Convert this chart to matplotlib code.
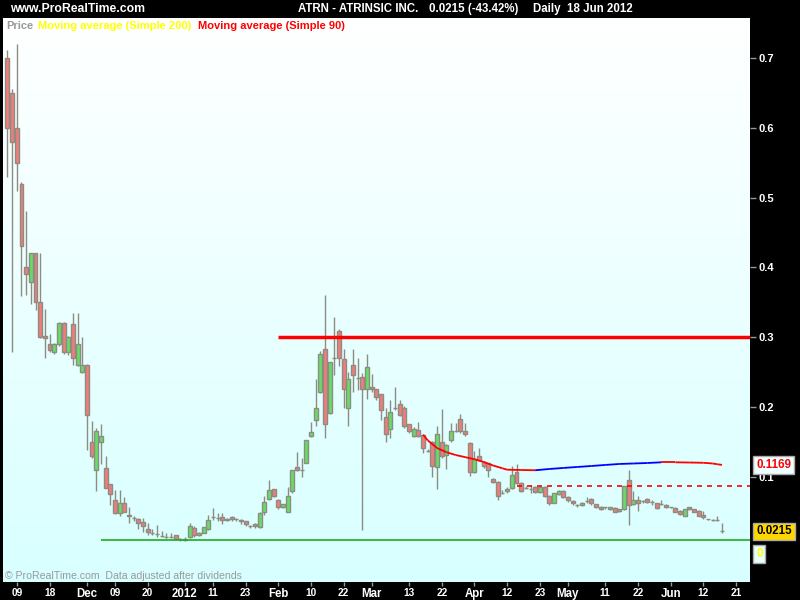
import numpy as np
import matplotlib
matplotlib.use('Agg')
import matplotlib.pyplot as plt
import matplotlib.transforms as mtransforms
from matplotlib.colors import LinearSegmentedColormap

plt.rcParams['font.family'] = ['Liberation Sans', 'DejaVu Sans']

# daily OHLC, 7 Nov 2011 .. 18 Jun 2012 (trading days)
opens = [0.700, 0.650, 0.600, 0.520, 0.400, 0.379, 0.420, 0.350, 0.301, 0.290,
         0.279, 0.290, 0.320, 0.279, 0.319, 0.260, 0.250, 0.260, 0.149, 0.109,
         0.149, 0.112, 0.089, 0.066, 0.048, 0.063, 0.045, 0.041, 0.040, 0.035,
         0.025, 0.020, 0.018, 0.015, 0.014, 0.014, 0.016, 0.010, 0.010, 0.013,
         0.026, 0.017, 0.020, 0.025, 0.042, 0.041, 0.042, 0.038, 0.042, 0.039,
         0.038, 0.037, 0.030, 0.032, 0.028, 0.049, 0.068, 0.082, 0.067, 0.056,
         0.050, 0.079, 0.114, 0.109, 0.120, 0.159, 0.181, 0.222, 0.283, 0.191,
         0.270, 0.309, 0.268, 0.199, 0.260, 0.242, 0.243, 0.225, 0.229, 0.225,
         0.218, 0.186, 0.169, 0.199, 0.204, 0.199, 0.175, 0.159, 0.167, 0.160,
         0.137, 0.149, 0.114, 0.149, 0.131, 0.152, 0.166, 0.182, 0.166, 0.148,
         0.107, 0.129, 0.121, 0.119, 0.097, 0.092, 0.077, 0.079, 0.084, 0.107,
         0.091, 0.084, 0.082, 0.085, 0.078, 0.085, 0.073, 0.063, 0.075, 0.080,
         0.071, 0.065, 0.059, 0.059, 0.065, 0.068, 0.061, 0.057, 0.056, 0.053,
         0.055, 0.051, 0.053, 0.095, 0.061, 0.066, 0.065, 0.068, 0.064, 0.062,
         0.061, 0.060, 0.056, 0.055, 0.051, 0.044, 0.056, 0.053, 0.051, 0.045,
         0.039, 0.038, 0.038, 0.022]
highs = [0.712, 0.655, 0.720, 0.522, 0.481, 0.421, 0.421, 0.420, 0.340, 0.304,
         0.291, 0.321, 0.322, 0.302, 0.334, 0.334, 0.300, 0.262, 0.180, 0.170,
         0.176, 0.130, 0.090, 0.081, 0.081, 0.071, 0.057, 0.043, 0.041, 0.041,
         0.034, 0.025, 0.031, 0.022, 0.019, 0.020, 0.017, 0.012, 0.013, 0.033,
         0.030, 0.021, 0.028, 0.045, 0.055, 0.048, 0.048, 0.041, 0.043, 0.041,
         0.039, 0.037, 0.031, 0.033, 0.049, 0.072, 0.095, 0.083, 0.068, 0.061,
         0.085, 0.110, 0.135, 0.127, 0.153, 0.178, 0.240, 0.280, 0.360, 0.265,
         0.329, 0.312, 0.283, 0.250, 0.283, 0.270, 0.248, 0.276, 0.247, 0.226,
         0.219, 0.198, 0.210, 0.228, 0.210, 0.201, 0.176, 0.171, 0.179, 0.161,
         0.139, 0.151, 0.172, 0.197, 0.147, 0.177, 0.177, 0.190, 0.177, 0.150,
         0.137, 0.141, 0.122, 0.120, 0.098, 0.094, 0.081, 0.085, 0.115, 0.118,
         0.092, 0.086, 0.088, 0.086, 0.086, 0.086, 0.074, 0.077, 0.081, 0.081,
         0.072, 0.066, 0.061, 0.064, 0.071, 0.069, 0.061, 0.058, 0.057, 0.057,
         0.056, 0.054, 0.087, 0.110, 0.080, 0.072, 0.067, 0.069, 0.066, 0.063,
         0.067, 0.061, 0.057, 0.056, 0.052, 0.054, 0.057, 0.054, 0.052, 0.051,
         0.040, 0.039, 0.044, 0.033]
lows = [0.530, 0.279, 0.510, 0.359, 0.360, 0.348, 0.339, 0.298, 0.270, 0.278,
        0.276, 0.287, 0.276, 0.275, 0.260, 0.258, 0.248, 0.138, 0.127, 0.080,
        0.118, 0.084, 0.060, 0.047, 0.044, 0.049, 0.033, 0.036, 0.025, 0.021,
        0.016, 0.016, 0.014, 0.014, 0.012, 0.012, 0.010, 0.008, 0.008, 0.012,
        0.014, 0.015, 0.019, 0.024, 0.038, 0.036, 0.032, 0.037, 0.037, 0.037,
        0.032, 0.030, 0.027, 0.027, 0.027, 0.045, 0.067, 0.071, 0.054, 0.055,
        0.050, 0.077, 0.108, 0.100, 0.119, 0.157, 0.172, 0.220, 0.155, 0.190,
        0.246, 0.259, 0.198, 0.172, 0.221, 0.224, 0.024, 0.212, 0.222, 0.210,
        0.181, 0.149, 0.155, 0.196, 0.187, 0.170, 0.163, 0.157, 0.157, 0.134,
        0.135, 0.100, 0.083, 0.127, 0.111, 0.150, 0.164, 0.163, 0.159, 0.101,
        0.105, 0.122, 0.113, 0.100, 0.091, 0.067, 0.075, 0.077, 0.083, 0.089,
        0.078, 0.082, 0.076, 0.076, 0.076, 0.071, 0.059, 0.062, 0.074, 0.070,
        0.064, 0.060, 0.057, 0.058, 0.063, 0.060, 0.055, 0.052, 0.054, 0.052,
        0.049, 0.050, 0.052, 0.031, 0.059, 0.051, 0.063, 0.062, 0.060, 0.053,
        0.059, 0.055, 0.055, 0.049, 0.045, 0.043, 0.052, 0.049, 0.043, 0.040,
        0.038, 0.036, 0.036, 0.020]
closes = [0.600, 0.580, 0.550, 0.430, 0.390, 0.420, 0.350, 0.300, 0.299, 0.281,
          0.290, 0.320, 0.279, 0.300, 0.270, 0.290, 0.260, 0.189, 0.129, 0.165,
          0.159, 0.084, 0.075, 0.048, 0.063, 0.050, 0.044, 0.041, 0.034, 0.030,
          0.021, 0.020, 0.018, 0.015, 0.014, 0.014, 0.011, 0.010, 0.009, 0.030,
          0.017, 0.020, 0.028, 0.038, 0.042, 0.041, 0.038, 0.040, 0.039, 0.039,
          0.036, 0.032, 0.030, 0.029, 0.048, 0.064, 0.081, 0.072, 0.057, 0.061,
          0.073, 0.109, 0.109, 0.109, 0.152, 0.164, 0.199, 0.276, 0.175, 0.264,
          0.270, 0.270, 0.225, 0.240, 0.245, 0.242, 0.225, 0.257, 0.225, 0.214,
          0.196, 0.161, 0.192, 0.199, 0.189, 0.172, 0.165, 0.169, 0.159, 0.141,
          0.137, 0.116, 0.161, 0.129, 0.145, 0.166, 0.166, 0.165, 0.161, 0.106,
          0.126, 0.124, 0.115, 0.109, 0.093, 0.073, 0.077, 0.083, 0.103, 0.091,
          0.080, 0.084, 0.082, 0.078, 0.085, 0.073, 0.062, 0.076, 0.080, 0.071,
          0.066, 0.062, 0.059, 0.063, 0.065, 0.062, 0.057, 0.053, 0.056, 0.056,
          0.050, 0.053, 0.086, 0.060, 0.066, 0.062, 0.065, 0.064, 0.064, 0.055,
          0.061, 0.056, 0.056, 0.050, 0.047, 0.053, 0.053, 0.050, 0.044, 0.042,
          0.039, 0.038, 0.038, 0.0215]

# moving average (simple 90)
ma_idx = [89, 90, 92, 94, 96, 98, 100, 102, 104, 106, 107, 110, 113, 116, 119,
          122, 125, 128, 131, 134, 137, 140, 143, 146, 149, 151, 152, 153]
ma_val = [0.160, 0.152, 0.141, 0.135, 0.131, 0.128, 0.125, 0.121, 0.116, 0.112,
          0.110, 0.1096, 0.1092, 0.111, 0.1125, 0.1139, 0.1153, 0.1168, 0.1182,
          0.1189, 0.1196, 0.1206, 0.1206, 0.1203, 0.1199, 0.1189, 0.1178, 0.1169]

# drawn levels: (value, first bar)
resistance = (0.300, 58)
dashed_level = (0.0867, 109)
support = (0.0088, 20)

holidays = ['2011-11-24', '2011-12-26', '2012-01-02', '2012-01-16',
            '2012-02-20', '2012-04-06', '2012-05-28']
tick_dates = ['2011-11-09', '2011-11-18', '2011-12-01', '2011-12-09', '2011-12-20',
              '2012-01-01', '2012-01-11', '2012-01-23', '2012-02-01', '2012-02-10',
              '2012-02-22', '2012-03-01', '2012-03-13', '2012-03-22', '2012-04-01',
              '2012-04-12', '2012-04-23', '2012-05-01', '2012-05-11', '2012-05-22',
              '2012-06-01', '2012-06-12', '2012-06-21']
tick_labels = ['09', '18', 'Dec', '09', '20', '2012', '11', '23', 'Feb', '10', '22',
               'Mar', '13', '22', 'Apr', '12', '23', 'May', '11', '22', 'Jun', '12', '21']
ytick_vals = [0.1, 0.2, 0.3, 0.4, 0.5, 0.6, 0.7]

GRAY = '#8c8c80'

fig = plt.figure(figsize=(8, 6), dpi=100, facecolor='black')
ax = fig.add_axes([3 / 800, 18 / 600, 747 / 800, 564 / 600])
xmin, xmax = -0.96, 159.0
ymin, ymax = -0.0509, 0.7572

# background gradient
grad = np.linspace(0, 1, 256).reshape(-1, 1)
cmap = LinearSegmentedColormap.from_list('bg', ['#ffffff', '#d8ffff'])
ax.imshow(grad, extent=[xmin, xmax, ymin, ymax], aspect='auto', cmap=cmap,
          origin='upper', zorder=0)

o, h, l, c = (np.array(v) for v in (opens, highs, lows, closes))
x = np.arange(len(c))
body_col = np.where(c > o, '#66dd66', np.where(c < o, '#f07c7c', GRAY))
ax.vlines(x, l, h, color=GRAY, lw=1, zorder=2)
ax.bar(x, np.abs(c - o), bottom=np.minimum(o, c), width=0.85, color=body_col,
       edgecolor=GRAY, linewidth=1, zorder=3)

# MA coloured by direction
for k in range(len(ma_idx) - 1):
    col = '#0000ff' if ma_val[k + 1] > ma_val[k] else '#ff0000'
    ax.plot(ma_idx[k:k + 2], ma_val[k:k + 2], color=col, lw=1.3, zorder=4,
            solid_capstyle='butt')

ax.hlines(resistance[0], resistance[1], xmax, color='#ff0000', lw=2.5, zorder=5)
ax.hlines(dashed_level[0], dashed_level[1], xmax, color='#ff0000', lw=1.2,
          linestyles=(0, (3, 3)), zorder=5)
ax.hlines(support[0], support[1], xmax, color='#22aa22', lw=1.2, zorder=5)

ax.set_xlim(xmin, xmax)
ax.set_ylim(ymin, ymax)
for s in ax.spines.values():
    s.set_visible(False)

# axes ticks
ax.yaxis.tick_right()
ax.set_yticks(ytick_vals)
ax.set_yticklabels(['%.1f' % v for v in ytick_vals])
ax.tick_params(axis='y', colors='#999999', labelcolor='white', length=4, width=1,
               pad=2, labelsize=8)
xt = [int(np.busday_count('2011-11-07', d, holidays=holidays)) for d in tick_dates]
ax.set_xticks(xt)
ax.set_xticklabels(tick_labels)
ax.tick_params(axis='x', colors='#999999', labelcolor='white', length=3, width=1,
               pad=1)
for t in ax.get_xticklabels() + ax.get_yticklabels():
    t.set_fontweight('bold')
for t in ax.get_xticklabels():
    s = t.get_text()
    t.set_fontsize(7.3 if (s.isdigit() and len(s) == 2) else 8.3)

# value boxes on the right
trans = mtransforms.blended_transform_factory(ax.transAxes, ax.transData)
box_x = 1 + 6 / 747
ax.text(box_x, ma_val[-1], '%.4f' % ma_val[-1], transform=trans, ha='left',
        va='center', color='#ff0000', weight='bold', size=8.3, clip_on=False, zorder=6,
        bbox=dict(boxstyle='square,pad=0.25', fc='#f0ffff', ec='#aaaaaa', lw=1))
ax.text(box_x, closes[-1], '%.4f' % closes[-1], transform=trans, ha='left',
        va='center', color='black', weight='bold', size=8.3, clip_on=False, zorder=6,
        bbox=dict(boxstyle='square,pad=0.25', fc='#ffd700', ec='#aaaaaa', lw=1))
ax.text(box_x, -0.002, '0', transform=trans, ha='left', va='top',
        color='#ffff00', weight='bold', size=8.3, clip_on=False, zorder=6,
        bbox=dict(boxstyle='square,pad=0.25', fc='#e8ffff', ec='#aaaaaa', lw=1))

# header and legend
hdr_y = 1 - 9 / 600
fig.text(10 / 800, hdr_y, 'www.ProRealTime.com', color='white', weight='bold',
         size=8.8, va='center')
fig.text(298 / 800, hdr_y, 'ATRN - ATRINSIC INC.', color='white', weight='bold',
         size=8.3, va='center')
fig.text(429 / 800, hdr_y, '0.0215 (-43.42%)', color='white', weight='bold',
         size=8.3, va='center')
fig.text(533 / 800, hdr_y, 'Daily  18 Jun 2012', color='white', weight='bold',
         size=8.3, va='center')
leg_y = 1 - 26 / 600
fig.text(6 / 800, leg_y, 'Price', color='#999999', weight='bold', size=8,
         va='center')
fig.text(38 / 800, leg_y, 'Moving average (Simple 200)', color='#ffff00',
         weight='bold', size=8, va='center')
fig.text(198 / 800, leg_y, 'Moving average (Simple 90)', color='#ff0000',
         weight='bold', size=8, va='center')
fig.text(5 / 800, 1 - 576 / 600, '\u00a9 ProRealTime.com  Data adjusted after dividends',
         color='#999999', size=7.6, va='center')

fig.savefig('out.png', dpi=100, facecolor='black')
